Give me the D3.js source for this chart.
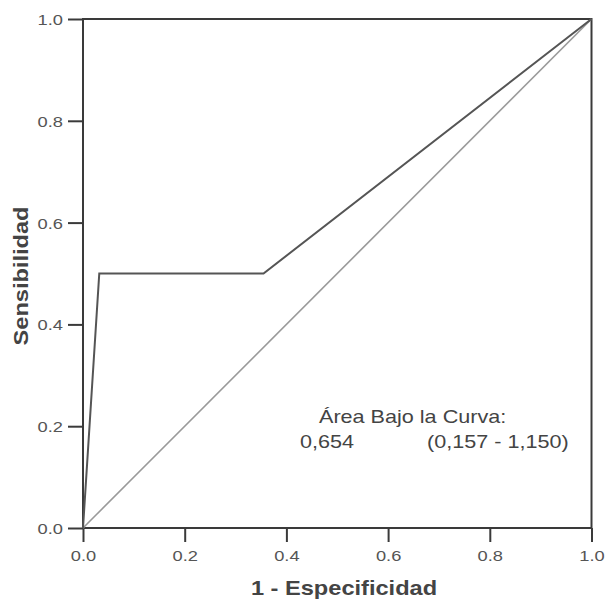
<!DOCTYPE html>
<html><head><meta charset="utf-8">
<script src="https://cdn.jsdelivr.net/npm/d3@7"></script>
<style>body{margin:0;background:#fff;} svg{display:block;font-family:"Liberation Sans",Arial,sans-serif;}</style>
</head><body>
<script>
const rocX = [0, 0.032, 0.355, 1];
const rocY = [0, 0.5, 0.5, 1];
const refX = [0, 1];
const refY = [0, 1];
const ticks = [0, 0.2, 0.4, 0.6, 0.8, 1.0];
const tickLabels = ["0.0","0.2","0.4","0.6","0.8","1.0"];
const xTitle = "1 - Especificidad";
const yTitle = "Sensibilidad";
const annotLine1 = "Área Bajo la Curva:";
const aucValue = "0,654";
const aucCI = "(0,157 - 1,150)";

const W = 608, H = 602;
const S = 1.18; // horizontal stretch of text
const svg = d3.select("body").append("svg").attr("width", W).attr("height", H);
const x = d3.scaleLinear().domain([0,1]).range([83, 591.5]);
const y = d3.scaleLinear().domain([0,1]).range([528, 19]);
const axisColor = "#3a3a3a", textColor = "#555";

// frame
svg.append("rect").attr("x", x(0)).attr("y", y(1)).attr("width", x(1)-x(0)).attr("height", y(0)-y(1))
  .attr("fill","none").attr("stroke",axisColor).attr("stroke-width",2);

// axes
const xa = svg.append("g").attr("transform",`translate(0,${y(0)})`)
  .call(d3.axisBottom(x).tickValues(ticks).tickFormat((d,i)=>tickLabels[i]).tickSize(14).tickPadding(8));
const ya = svg.append("g").attr("transform",`translate(${x(0)},0)`)
  .call(d3.axisLeft(y).tickValues(ticks).tickFormat((d,i)=>tickLabels[i]).tickSize(15).tickPadding(5));
[xa, ya].forEach(g => {
  g.select(".domain").remove();
  g.selectAll("line").attr("stroke",axisColor).attr("stroke-width",2);
  g.selectAll("text").attr("fill",textColor).attr("font-size",15.5).attr("font-family","Liberation Sans, Arial, sans-serif");
});
xa.selectAll("text").attr("transform",`scale(${S},1)`);
ya.selectAll("text").attr("dy","0.35em").attr("transform",`translate(-20,0) scale(${S},1) translate(20,0)`);

// reference diagonal
const line = d3.line().x(d=>x(d[0])).y(d=>y(d[1]));
svg.append("path").datum(refX.map((v,i)=>[v,refY[i]])).attr("d",line)
  .attr("fill","none").attr("stroke","#9a9a9a").attr("stroke-width",1.6);
// ROC curve
svg.append("path").datum(rocX.map((v,i)=>[v,rocY[i]])).attr("d",line)
  .attr("fill","none").attr("stroke","#555").attr("stroke-width",2);

// titles
svg.append("text").attr("transform",`translate(344,595) scale(${S},1)`).attr("text-anchor","middle")
  .attr("font-size",20).attr("font-weight","bold").attr("fill","#444").text(xTitle);
svg.append("text").attr("transform",`translate(28,276) rotate(-90) scale(${S},1)`).attr("text-anchor","middle")
  .attr("font-size",20).attr("font-weight","bold").attr("fill","#444").text(yTitle);

// annotation
const ann = (tx, ty, t) => svg.append("text").attr("transform",`translate(${tx},${ty}) scale(1.2,1)`)
  .attr("font-size",18).attr("fill","#444").text(t);
ann(319, 423, annotLine1);
ann(300, 448, aucValue);
ann(427, 448, aucCI);
</script>
</body></html>
